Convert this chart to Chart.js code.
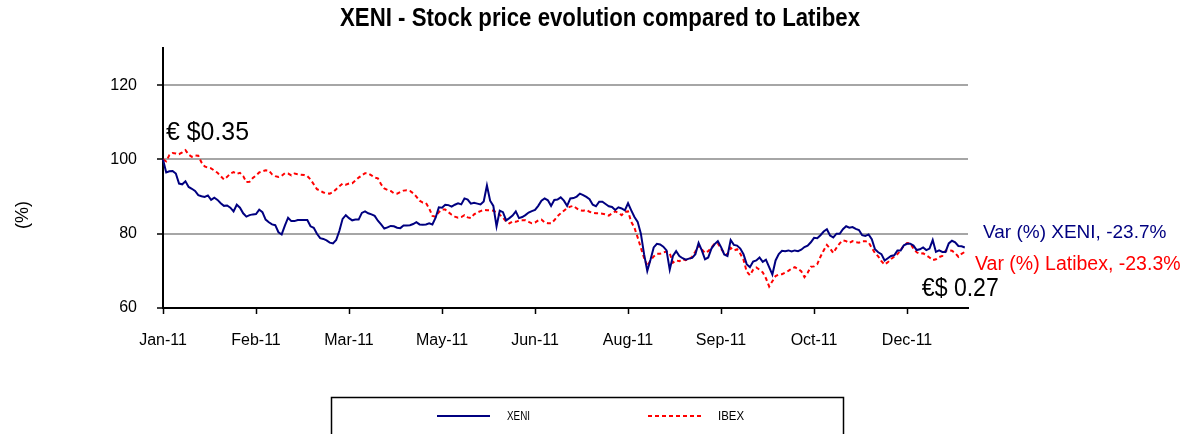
<!DOCTYPE html>
<html>
    <head>
        <title>XENI - Stock price evolution</title>
        <meta http-equiv="Content-Type" content="text/html; charset=UTF-8">
        <script src="https://cdn.jsdelivr.net/npm/chart.js"></script>
        <style>
            html, body { margin: 0; padding: 0; background: #fff; }
            #wrap { width: 1192px; height: 434px; }
        </style>
    </head>
    <body>
        <div id="wrap"><canvas id="graphique" width="1192" height="434"></canvas></div>

        <script>
            // axe des x : un libellé tous les 29 jours de bourse
            const tickLabels = ['Jan-11', 'Feb-11', 'Mar-11', 'May-11', 'Jun-11', 'Aug-11', 'Sep-11', 'Oct-11', 'Dec-11'];
            const tickStep = 29;

            // base 100, valeurs
            const xeni = [
                100, 96.5, 96.8, 96.9, 96.2, 93.5, 93.3, 94.1, 92.6, 92.1,
                91.5, 90.4, 90.1, 89.9, 90.3, 89.1, 89.7, 89.1, 88.2, 87.5,
                87.6, 87.0, 86.0, 87.8, 87.0, 85.5, 84.6, 85.0, 85.2, 85.3,
                86.5, 85.8, 83.8, 83.1, 82.5, 82.3, 80.4, 79.8, 82.2, 84.3,
                83.4, 83.4, 83.7, 83.7, 83.7, 83.7, 82.0, 81.6, 80.0, 78.8,
                78.6, 78.2, 77.6, 77.4, 78.3, 80.8, 84.0, 85.0, 84.2, 83.6,
                83.8, 83.8, 85.6, 86.0, 85.5, 85.2, 84.8, 83.5, 82.5, 81.4,
                81.7, 82.1, 82.0, 81.6, 81.5, 82.2, 82.2, 82.3, 82.6, 83.1,
                82.5, 82.4, 82.5, 82.8, 82.5, 84.3, 87.1, 87.0, 87.8, 87.7,
                87.3, 87.8, 88.2, 87.9, 89.5, 89.2, 88.1, 88.3, 88.1, 87.9,
                88.7, 93.0, 88.9, 87.5, 82.0, 86.2, 85.8, 83.6, 84.2, 84.9,
                86.0, 84.2, 84.5, 85.0, 85.7, 86.1, 86.4, 87.5, 88.9, 89.5,
                89.0, 87.5, 89.1, 89.2, 89.8, 88.9, 87.5, 89.5, 89.6, 90.0,
                90.8, 90.4, 89.9, 89.3, 87.8, 87.4, 88.6, 88.6, 88.0, 87.4,
                87.2, 86.4, 87.1, 86.8, 86.3, 88.2, 86.3, 84.5, 83.2, 80.0,
                74.5, 70.0, 73.0, 76.3, 77.3, 77.1, 76.5, 75.5, 70.3, 74.0,
                75.3, 74.0, 73.4, 73.0, 73.3, 73.5, 74.5, 77.5, 75.5, 73.1,
                73.6, 76.0, 77.2, 78.0, 76.4, 74.4, 74.0, 78.3, 77.0, 76.8,
                76.0, 74.5, 71.8, 71.0, 72.5, 72.8, 73.6, 72.4, 73.0, 71.0,
                69.0, 72.8, 74.5, 75.4, 75.3, 75.5, 75.2, 75.5, 75.3, 75.7,
                76.4, 76.8, 77.7, 78.9, 78.8, 79.6, 80.6, 81.2, 79.5, 79.0,
                80.0, 80.0, 81.2, 82.0, 81.6, 81.8, 81.3, 81.0, 79.6, 79.4,
                79.8, 78.5, 75.8, 75.0, 74.5, 72.8, 73.4, 74.0, 74.2, 75.5,
                75.5, 76.9, 77.3, 77.3, 76.8, 75.6, 75.8, 76.3, 75.6, 76.0,
                78.3, 75.1, 75.5, 75.1, 75.1, 77.4, 78.1, 77.7, 76.7, 76.6,
                76.3
            ];
            const ibex = [
                100, 99.5, 101.2, 101.7, 101.6, 101.4, 101.9, 102.5, 101.3, 100.7,
                101.1, 101.0, 99.2, 98.1, 97.8, 97.6, 97.0, 96.4, 95.5, 94.6,
                95.3, 96.2, 96.6, 96.1, 96.4, 95.5, 93.9, 94.0, 95.0, 95.7,
                96.5, 96.8, 97.1, 97.0, 96.0, 95.5, 95.3, 95.6, 96.3, 96.2,
                95.7, 96.2, 96.0, 95.9, 95.8, 95.5, 94.6, 93.3, 92.0, 91.6,
                91.1, 90.9, 90.8, 91.2, 92.0, 92.8, 93.5, 93.2, 93.5, 93.6,
                94.3, 95.1, 95.7, 96.3, 96.2, 95.7, 95.1, 94.9, 93.3, 92.2,
                91.8, 91.5, 90.9, 90.8, 91.2, 91.6, 91.7, 91.5, 90.9, 90.0,
                88.9, 88.4, 88.3, 86.8, 84.8, 84.6, 85.8, 86.5, 86.5, 85.8,
                85.1, 84.6, 84.3, 84.5, 85.0, 84.4, 84.2, 85.2, 85.7, 86.1,
                86.4, 86.3, 86.3, 86.2, 85.8, 85.1, 84.3, 83.3, 82.8, 83.3,
                83.2, 83.5, 83.6, 83.6, 83.2, 82.8, 83.0, 83.6, 83.8, 83.0,
                82.8, 82.8, 83.6, 84.7, 85.5, 86.2, 86.9, 87.3, 87.5, 86.8,
                86.3, 86.2, 86.4, 85.9, 85.6, 85.5, 85.5, 85.4, 85.2, 84.9,
                85.5, 86.0, 85.6, 85.0, 85.9, 86.0, 83.2, 81.6, 79.0, 76.2,
                73.5, 71.3, 72.8, 73.9, 74.6, 74.6, 75.0, 75.2, 74.7, 72.2,
                72.8, 72.6, 73.2, 72.9, 73.1, 73.8, 75.2, 76.8, 75.8, 74.8,
                75.3, 76.3, 77.3, 77.4, 76.0, 74.8, 74.4, 76.2, 75.5, 75.8,
                74.6, 73.0, 69.8, 68.8, 70.3, 70.9, 70.3, 69.6, 68.0, 65.8,
                67.2, 68.6, 69.0, 69.1, 69.5, 70.0, 70.6, 71.0, 70.5, 69.9,
                68.3, 69.5, 71.1, 71.2, 71.8, 73.8, 75.5, 77.0, 76.0, 74.8,
                76.2, 77.4, 78.2, 78.0, 77.5, 78.0, 77.7, 77.6, 78.0, 78.0,
                77.7, 76.2, 74.8, 73.9, 72.6, 71.7, 72.3, 73.2, 73.8, 74.5,
                75.6, 76.8, 77.5, 77.4, 76.0, 75.0, 74.6, 74.7, 74.2, 73.6,
                72.9, 73.1, 73.7, 74.0, 75.4, 75.5, 75.4, 74.8, 73.8, 74.6,
                75.1
            ];
            const seriesNames = ['XENI', 'IBEX'];
            const chartTitle = 'XENI - Stock price evolution compared to Latibex';
            const priceStart = '€ $0.35';
            const priceEnd = '€$ 0.27';
            const varXeni = 'Var (%) XENI, -23.7%';
            const varIbex = 'Var (%) Latibex, -23.3%';

            const NAVY = '#000080';
            const RED = '#ff0000';
            const ARIAL = '"Liberation Sans", Arial, sans-serif';

            // une catégorie de plus pour que l'axe aille jusqu'au bout
            const labels = [];
            for (let i = 0; i <= xeni.length; i++) {
                labels.push(i % tickStep === 0 ? (tickLabels[i / tickStep] || '') : '');
            }

            // texte resserré (pas d'Arial Narrow dispo)
            function texteEtroit(c, txt, x, y, largeur) {
                const w = c.measureText(txt).width;
                const k = Math.min(1, largeur / w);
                c.save();
                c.translate(x, y);
                c.scale(k, 1);
                c.fillText(txt, 0, 0);
                c.restore();
            }

            // titre, (%), prix, variations, légende encadrée
            const decor = {
                id: 'decor',
                afterDraw(chart) {
                    const c = chart.ctx;
                    const xs = chart.scales.x;
                    const ys = chart.scales.y;
                    const area = chart.chartArea;
                    c.save();

                    c.fillStyle = '#000';
                    c.font = 'bold 25px ' + ARIAL;
                    c.textAlign = 'center';
                    c.textBaseline = 'middle';
                    texteEtroit(c, chartTitle, 600, 19, 520);

                    c.font = '18px ' + ARIAL;
                    c.translate(23, 215);
                    c.rotate(-Math.PI / 2);
                    c.fillText('(%)', 0, 0);
                    c.setTransform(1, 0, 0, 1, 0, 0);

                    c.font = '26px ' + ARIAL;
                    c.textAlign = 'left';
                    c.textBaseline = 'alphabetic';
                    texteEtroit(c, priceStart, xs.getPixelForValue(0) + 3, ys.getPixelForValue(100) - 19, 83);
                    texteEtroit(c, priceEnd, xs.getPixelForValue(xeni.length - 1) - 43, ys.getPixelForValue(63.3), 77);

                    c.textBaseline = 'middle';
                    c.fillStyle = NAVY;
                    c.font = '19px ' + ARIAL;
                    c.fillText(varXeni, area.right + 15, ys.getPixelForValue(80.3));
                    c.fillStyle = RED;
                    c.font = '19.5px ' + ARIAL;
                    c.fillText(varIbex, area.right + 7, ys.getPixelForValue(71.7));

                    // légende
                    c.strokeStyle = '#000';
                    c.lineWidth = 1.5;
                    c.strokeRect(331.5, 397.5, 512, 60);
                    const ds = chart.data.datasets;
                    const pos = [437, 648];
                    c.font = '12px ' + ARIAL;
                    c.fillStyle = '#000';
                    ds.forEach(function (d, k) {
                        c.beginPath();
                        c.strokeStyle = d.borderColor;
                        c.lineWidth = 2;
                        c.setLineDash(d.borderDash || []);
                        c.moveTo(pos[k], 416);
                        c.lineTo(pos[k] + 53, 416);
                        c.stroke();
                        c.setLineDash([]);
                        texteEtroit(c, d.label, pos[k] + 70, 417, k === 0 ? 23 : 26);
                    });
                    c.restore();
                }
            };

            const ctx = document.getElementById('graphique').getContext('2d');
            const chart = new Chart(ctx, {
                type: 'line',
                data: {
                    labels: labels,
                    datasets: [
                        {
                            label: seriesNames[0],
                            data: xeni,
                            borderColor: NAVY,
                            borderWidth: 2,
                            pointRadius: 0,
                            tension: 0,
                            fill: false
                        },
                        {
                            label: seriesNames[1],
                            data: ibex,
                            borderColor: RED,
                            borderWidth: 2,
                            borderDash: [4, 3],
                            pointRadius: 0,
                            tension: 0,
                            fill: false
                        }
                    ]
                },
                options: {
                    responsive: false,
                    animation: false,
                    layout: { padding: { left: 0, right: 224, top: 48, bottom: 0 } },
                    plugins: {
                        legend: { display: false },
                        tooltip: { enabled: false },
                        title: { display: false }
                    },
                    scales: {
                        x: {
                            afterFit: function (s) { s.height = 126; },
                            border: { display: true, color: '#000', width: 2 },
                            grid: {
                                drawOnChartArea: false,
                                tickLength: 6,
                                tickColor: function (c) { return c.index % tickStep === 0 ? '#000' : 'rgba(0,0,0,0)'; },
                                tickWidth: 1.5
                            },
                            ticks: {
                                autoSkip: false,
                                maxRotation: 0,
                                padding: 17,
                                color: '#000',
                                font: { family: ARIAL, size: 16 },
                                callback: function (v, i) { return labels[i]; }
                            }
                        },
                        y: {
                            min: 60,
                            max: 130,
                            afterFit: function (s) { s.width = 163; },
                            afterBuildTicks: function (s) {
                                s.ticks = s.ticks.filter(function (t) { return t.value <= 120; });
                            },
                            border: { display: true, color: '#000', width: 2 },
                            grid: {
                                color: function (c) { return c.tick && c.tick.value === 60 ? 'rgba(0,0,0,0)' : '#a6a6a6'; },
                                lineWidth: 2,
                                tickLength: 6,
                                tickColor: '#000',
                                tickWidth: 1.5
                            },
                            ticks: {
                                stepSize: 20,
                                padding: 20,
                                color: '#000',
                                font: { family: ARIAL, size: 16 }
                            }
                        }
                    }
                },
                plugins: [decor]
            });
        </script>
    </body>
</html>
